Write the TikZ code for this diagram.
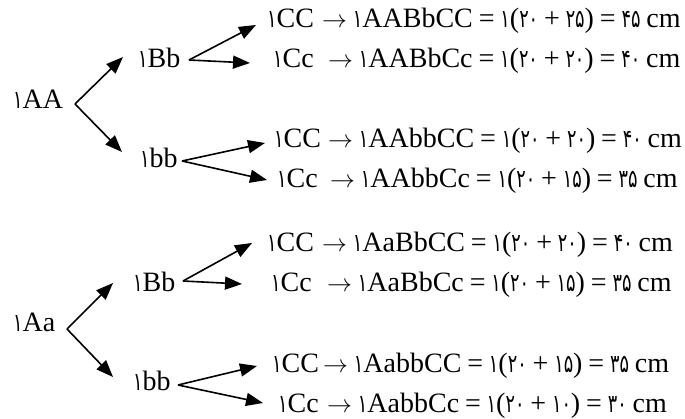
\documentclass[tikz,border=0pt]{standalone}
\usepackage{fontspec}
\setmainfont{Liberation Serif}
\newfontfamily\pdig{DejaVu Sans}[Scale=0.9,FakeStretch=0.7]
\usetikzlibrary{arrows.meta}
\newcommand{\pd}[1]{{\pdig #1}}
\newcommand{\gap}{\hspace{0.21em}}

\begin{document}
\begin{tikzpicture}[x=1pt,y=-1pt,
  lab/.style={inner sep=0pt,anchor=base west,font=\fontsize{28}{32}\selectfont},
  arr/.style={line width=1.6pt,-{Triangle[length=17pt,width=13pt]}}]
\useasboundingbox (0,0) rectangle (685,419);

% ---------- upper tree: 1AA ----------
\node[lab] (nAA)  at (13,109)  {\pd{۱}AA};
\node[lab] (nBb1) at (138,68)  {\pd{۱}Bb};
\node[lab] (nbb1) at (140,168) {\pd{۱}bb};
\node[lab] (g1) at (267,28)  {\pd{۱}CC};
\node[lab] (g2) at (273,68)  {\pd{۱}Cc};
\node[lab] (g3) at (274,148) {\pd{۱}CC};
\node[lab] (g4) at (277,188) {\pd{۱}Cc};
\node[lab] (e1) at (322,28)  {$\rightarrow$\gap\pd{۱}AABbCC\gap=\gap\pd{۱}(\pd{۲۰}\gap+\gap\pd{۲۵})\gap=\gap\pd{۴۵}\gap cm};
\node[lab] (e2) at (328,68)  {$\rightarrow$\gap\pd{۱}AABbCc\gap=\gap\pd{۱}(\pd{۲۰}\gap+\gap\pd{۲۰})\gap=\gap\pd{۴۰}\gap cm};
\node[lab] (e3) at (328,148) {$\rightarrow$\gap\pd{۱}AAbbCC\gap=\gap\pd{۱}(\pd{۲۰}\gap+\gap\pd{۲۰})\gap=\gap\pd{۴۰}\gap cm};
\node[lab] (e4) at (330,188) {$\rightarrow$\gap\pd{۱}AAbbCc\gap=\gap\pd{۱}(\pd{۲۰}\gap+\gap\pd{۱۵})\gap=\gap\pd{۳۵}\gap cm};

\coordinate (fAA)  at (75,104);
\coordinate (fBb1) at (189,60);
\coordinate (fbb1) at (182,161);
\draw[arr] (fAA) -- ([shift={(-15,-11)}]nBb1.base west);
\draw[arr] (fAA) -- ([shift={(-18,-16)}]nbb1.base west);
\draw[arr] (fBb1) -- ([shift={(-11,-3)}]g1.base west);
\draw[arr] (fBb1) -- ([shift={(-23,-5)}]g2.base west);
\draw[arr] (fbb1) -- ([shift={(-9,-5)}]g3.base west);
\draw[arr] (fbb1) -- ([shift={(-10,-8)}]g4.base west);

% ---------- lower tree: 1Aa ----------
\node[lab] (nAa)  at (13,332)  {\pd{۱}Aa};
\node[lab] (nBb2) at (133,292) {\pd{۱}Bb};
\node[lab] (nbb2) at (133,390) {\pd{۱}bb};
\node[lab] (g5) at (267,252) {\pd{۱}CC};
\node[lab] (g6) at (271,292) {\pd{۱}Cc};
\node[lab] (g7) at (272,372) {\pd{۱}CC};
\node[lab] (g8) at (278,412) {\pd{۱}Cc};
\node[lab] (e5) at (322,252) {$\rightarrow$\gap\pd{۱}AaBbCC\gap=\gap\pd{۱}(\pd{۲۰}\gap+\gap\pd{۲۰})\gap=\gap\pd{۴۰}\gap cm};
\node[lab] (e6) at (327,292) {$\rightarrow$\gap\pd{۱}AaBbCc\gap=\gap\pd{۱}(\pd{۲۰}\gap+\gap\pd{۱۵})\gap=\gap\pd{۳۵}\gap cm};
\node[lab] (e7) at (323,372) {$\rightarrow$\gap\pd{۱}AabbCC\gap=\gap\pd{۱}(\pd{۲۰}\gap+\gap\pd{۱۵})\gap=\gap\pd{۳۵}\gap cm};
\node[lab] (e8) at (327,412) {$\rightarrow$\gap\pd{۱}AabbCc\gap=\gap\pd{۱}(\pd{۲۰}\gap+\gap\pd{۱۰})\gap=\gap\pd{۳۰}\gap cm};

\coordinate (fAa)  at (67,329);
\coordinate (fBb2) at (183,281);
\coordinate (fbb2) at (178,385);
\draw[arr] (fAa) -- ([shift={(-20,-9)}]nBb2.base west);
\draw[arr] (fAa) -- ([shift={(-20,-13)}]nbb2.base west);
\draw[arr] (fBb2) -- ([shift={(-15,-9)}]g5.base west);
\draw[arr] (fBb2) -- ([shift={(-29,-8)}]g6.base west);
\draw[arr] (fbb2) -- ([shift={(-15,-6)}]g7.base west);
\draw[arr] (fbb2) -- ([shift={(-15,-9)}]g8.base west);
\end{tikzpicture}
\end{document}
